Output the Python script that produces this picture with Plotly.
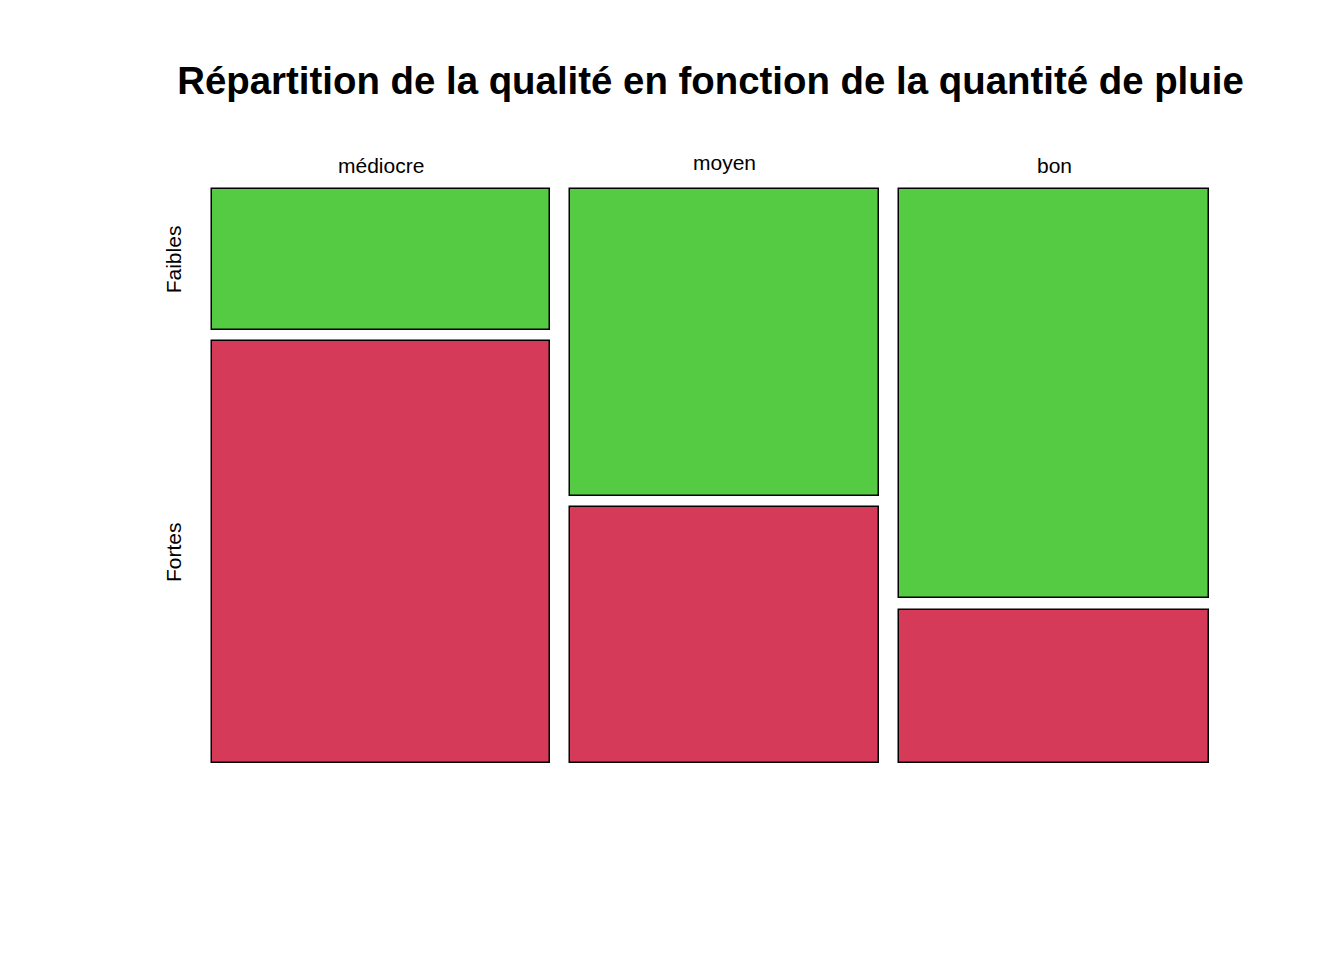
import plotly.graph_objects as go

# Data: counts of wine years by quality (columns) and rain (rows)
qualites = ["médiocre", "moyen", "bon"]
pluies = ["Faibles", "Fortes"]
faibles = [3, 6, 8]
fortes = [9, 5, 3]
couleurs = {"Faibles": "#55CB43", "Fortes": "#D53B58"}

title = "Répartition de la qualité en fonction de la quantité de pluie"

W, H = 1344, 960
PAD = 3
X_LEFT, X_RIGHT, Y_TOP, Y_BOTTOM = 212, 1209, 189, 763
ML, MR, MT, MB = X_LEFT - PAD, W - X_RIGHT - PAD, Y_TOP - PAD, H - Y_BOTTOM - PAD
ex = PAD / (X_RIGHT - X_LEFT)
ey = PAD / (Y_BOTTOM - Y_TOP)
gapx = 0.02
gapy = 0.02

totals = [a + b for a, b in zip(faibles, fortes)]
grand = sum(totals)
avail_x = 1 - gapx * (len(qualites) - 1)
avail_y = 1 - gapy

fig = go.Figure()

x0 = 0.0
centers = []
fortes_mid = []
faibles_mid = []
for i, q in enumerate(qualites):
    w = totals[i] / grand * avail_x
    c = x0 + w / 2
    centers.append(c)
    h_fo = fortes[i] / totals[i] * avail_y
    h_fa = faibles[i] / totals[i] * avail_y
    # Fortes at bottom
    fig.add_trace(go.Bar(x=[c], y=[h_fo], base=[0], width=[w],
                         marker=dict(color=couleurs["Fortes"], line=dict(color="black", width=1.5)),
                         showlegend=False, hoverinfo="skip"))
    # Faibles on top
    fig.add_trace(go.Bar(x=[c], y=[h_fa], base=[h_fo + gapy], width=[w],
                         marker=dict(color=couleurs["Faibles"], line=dict(color="black", width=1.5)),
                         showlegend=False, hoverinfo="skip"))
    fortes_mid.append(h_fo / 2)
    faibles_mid.append(h_fo + gapy + h_fa / 2)
    x0 += w + gapx

annotations = []
label_font = dict(family="Liberation Sans, Arial, sans-serif", size=21, color="black")
for i, q in enumerate(qualites):
    shift = 24 if q != "moyen" else 27
    annotations.append(dict(x=centers[i], xref="x", y=1, yref="y", yshift=shift,
                            text=q, showarrow=False, font=label_font,
                            xanchor="center", yanchor="middle"))
annotations.append(dict(x=0, xref="x", xshift=-39, y=faibles_mid[0], yref="y",
                        text=pluies[0], showarrow=False, font=label_font, textangle=-90,
                        xanchor="center", yanchor="middle"))
annotations.append(dict(x=0, xref="x", xshift=-39, y=fortes_mid[0], yref="y",
                        text=pluies[1], showarrow=False, font=label_font, textangle=-90,
                        xanchor="center", yanchor="middle"))

fig.update_layout(
    width=W, height=H,
    margin=dict(l=ML, r=MR, t=MT, b=MB),
    paper_bgcolor="white", plot_bgcolor="white",
    barmode="overlay", bargap=0,
    title=dict(text="<b>" + title + "</b>", x=0.5, xref="paper", xanchor="center",
               y=(H - 81) / H, yref="container", yanchor="middle",
               font=dict(family="Liberation Sans, Arial, sans-serif", size=38.4, color="black")),
    xaxis=dict(range=[-ex, 1 + ex], visible=False, showgrid=False, zeroline=False, fixedrange=True),
    yaxis=dict(range=[-ey, 1 + ey], visible=False, showgrid=False, zeroline=False, fixedrange=True),
    annotations=annotations,
    hovermode=False,
)

fig.write_html("out.html", config={"displayModeBar": False})
